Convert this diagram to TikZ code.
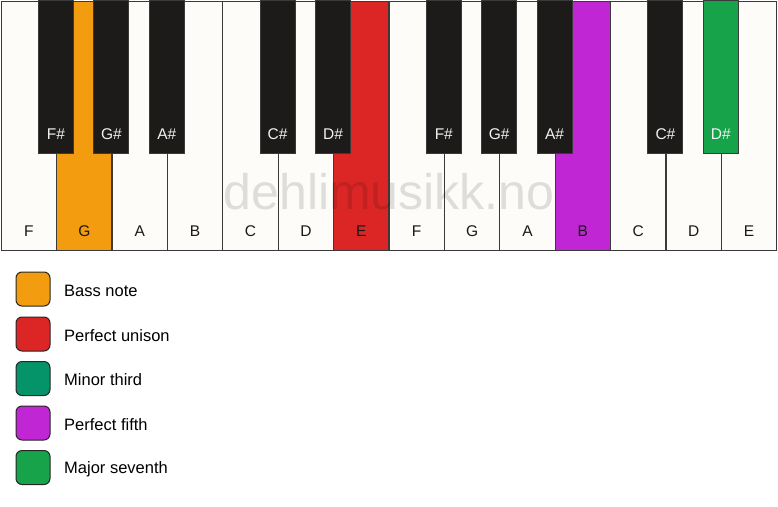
\documentclass[tikz,border=0pt]{standalone}
\usepackage{fontspec}
\setmainfont{Liberation Sans}
\usetikzlibrary{positioning}
\definecolor{ivory}{HTML}{FDFCF9}
\definecolor{keyblack}{HTML}{1C1B19}
\definecolor{keyedge}{HTML}{3A3A3A}
\definecolor{bassorange}{HTML}{F39C0F}
\definecolor{unisonred}{HTML}{DC2626}
\definecolor{thirdteal}{HTML}{05946A}
\definecolor{fifthpurple}{HTML}{C026D3}
\definecolor{seventhgreen}{HTML}{16A34A}
\tikzset{
  whitekey/.style={draw=keyedge, line width=1.2pt, minimum width=55.4pt, minimum height=249.5pt, inner sep=0pt, anchor=north west},
  blackkey/.style={draw=keyedge, line width=1pt, minimum width=35pt, minimum height=153pt, inner sep=0pt, anchor=north},
  whitename/.style={font=\fontsize{15.5}{18}\selectfont, text=black!90},
  blackname/.style={font=\fontsize{15.5}{18}\selectfont, text=white!95!black},
  legendbox/.style={draw=black!85, line width=1pt, rounded corners=6pt, minimum size=34pt, inner sep=0pt},
  legendtext/.style={font=\fontsize{16.5}{19}\selectfont, inner sep=1pt, anchor=west, yshift=-1.5pt},
  watermark/.style={font=\fontsize{50}{60}\selectfont, text=black, text opacity=0.12}
}
\begin{document}
\begin{tikzpicture}[x=1pt,y=-1pt]
  \useasboundingbox (0,0) rectangle (778,506);
  % white keys
  \foreach \n/\c [count=\i from 0] in {F/ivory,G/bassorange,A/ivory,B/ivory,C/ivory,D/ivory,E/unisonred,F/ivory,G/ivory,A/ivory,B/fifthpurple,C/ivory,D/ivory,E/ivory}
  {
    \node[whitekey, fill=\c] (w\i) at (0.6+\i*55.4,0.6) {};
    \node[whitename] (wn\i) at ([yshift=20pt]w\i.south) {\n};
  }
  \node[watermark] (mark) at (389,192) {dehlimusikk.no};
  % black keys, placed on the boundary after white key k
  \foreach \n/\c/\k in {F/keyblack/1,G/keyblack/2,A/keyblack/3,C/keyblack/5,D/keyblack/6,F/keyblack/8,G/keyblack/9,A/keyblack/10,C/keyblack/12,D/seventhgreen/13}
  {
    \node[blackkey, fill=\c] (b\k) at (0.6+\k*55.4,0) {};
    \node[blackname] (bn\k) at ([yshift=20pt]b\k.south) {\n\#};
  }
  % legend
  \node[legendbox, fill=bassorange] (l1) at (33,289) {};
  \node[legendbox, fill=unisonred] (l2) at (33,334) {};
  \node[legendbox, fill=thirdteal] (l3) at (33,378.5) {};
  \node[legendbox, fill=fifthpurple] (l4) at (33,423) {};
  \node[legendbox, fill=seventhgreen] (l5) at (33,467.5) {};
  \node[legendtext, right=12.5pt of l1] (t1) {Bass note};
  \node[legendtext, right=12.5pt of l2] (t2) {Perfect unison};
  \node[legendtext, right=12.5pt of l3] (t3) {Minor third};
  \node[legendtext, right=12.5pt of l4] (t4) {Perfect fifth};
  \node[legendtext, right=12.5pt of l5] (t5) {Major seventh};
\end{tikzpicture}
\end{document}
